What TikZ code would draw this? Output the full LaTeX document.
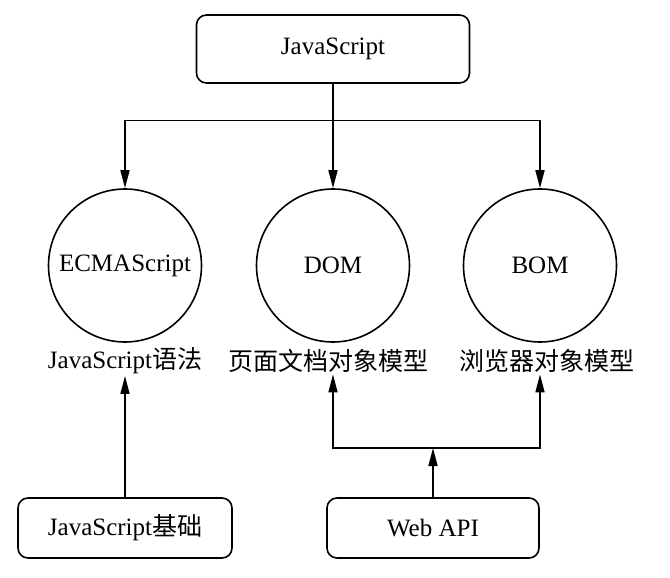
\documentclass[tikz,border=0pt]{standalone}
\usepackage{fontspec}
\setmainfont{Liberation Serif}
\newfontfamily\cjk{Noto Sans CJK SC}
\usetikzlibrary{arrows.meta}

\begin{document}
\begin{tikzpicture}[x=1pt, y=-1pt, line width=1.6pt,
		txt/.style={font=\fontsize{25}{30}\selectfont},
		box/.style={txt, draw, rounded corners=10pt, minimum width=#1, minimum height=60pt},
		ball/.style={txt, draw, circle, minimum size=153pt, inner sep=0pt},
		lbl/.style={txt, inner sep=1pt},
		arr/.style={-{Triangle[length=18pt, width=9pt]}}]
	\useasboundingbox (0,0) rectangle (670,578);
	\node[box=273pt, minimum height=68pt] (js) at (333,49) {JavaScript};
	\node[ball] (es) at (125,265.5) {ECMAScript};
	\node[ball] (dom) at (333,265.5) {DOM};
	\node[ball] (bom) at (540,265.5) {BOM};
	\node[lbl] (esl) at (125,361) {JavaScript{\cjk 语法}};
	\node[lbl] (doml) at (328,361) {\cjk 页面文档对象模型};
	\node[lbl] (boml) at (547,361) {\cjk 浏览器对象模型};
	\node[box=214pt] (base) at (125,528) {JavaScript{\cjk 基础}};
	\node[box=212pt] (api) at (433,528) {Web API};
	\coordinate (t) at (333,120.5);
	\coordinate (w) at (433,448);
	\draw[arr] (js) -- (dom);
	\draw[arr] (t) -| (es);
	\draw[arr] (t) -| (bom);
	\draw[arr] (base) -- (esl);
	\draw[arr] (api) -- (w);
	\draw[arr] (w) -| (dom |- doml.south);
	\draw[arr] (w) -| (bom |- boml.south);
\end{tikzpicture}
\end{document}
